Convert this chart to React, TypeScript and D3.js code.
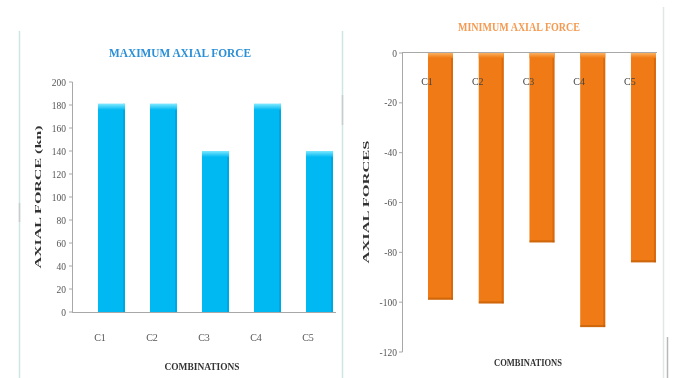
import React from "react";
import * as d3 from "d3";

const categories = ["C1", "C2", "C3", "C4", "C5"];
const maxValues = [181, 181, 140, 181, 140];
const minValues = [-99, -100.5, -76, -110, -84];
const maxTicks = [0, 20, 40, 60, 80, 100, 120, 140, 160, 180, 200];
const minTicks = [0, -20, -40, -60, -80, -100, -120];

const W = 673;
const H = 378;
const SERIF = "'Liberation Serif', 'Times New Roman', serif";

export default function App() {
  const xL = d3.scaleBand<string>().domain(categories).range([85.5, 345.5]).paddingInner(0.48).paddingOuter(0.24);
  const yL = d3.scaleLinear().domain([0, 200]).range([312, 82]);
  const xR = d3.scaleBand<string>().domain(categories).range([415.1, 668.85]).paddingInner(0.507).paddingOuter(0.254);
  const yR = d3.scaleLinear().domain([-120, 0]).range([352, 53]);

  return (
    <svg width={W} height={H} style={{ position: "absolute", left: 0, top: 0, background: "#fff" }}>
      <defs>
        <linearGradient id="capBlue" x1="0" y1="0" x2="0" y2="1">
          <stop offset="0" stopColor="#7de9ff" />
          <stop offset="1" stopColor="#00b8f2" />
        </linearGradient>
        <linearGradient id="capOrange" x1="0" y1="0" x2="0" y2="1">
          <stop offset="0" stopColor="#fbb060" />
          <stop offset="1" stopColor="#f07a12" />
        </linearGradient>
        <filter id="soft" x="-5%" y="-5%" width="110%" height="110%">
          <feGaussianBlur stdDeviation="0.45" />
        </filter>
      </defs>
      <rect x={0} y={0} width={W} height={H} fill="#fff" />
      <g filter="url(#soft)">
        {/* frames */}
        <line x1={19.5} y1={31} x2={19.5} y2={378} stroke="#cfe4e6" strokeWidth={1.5} />
        <line x1={342.5} y1={31} x2={342.5} y2={378} stroke="#cfe4e6" strokeWidth={1.5} />
        <line x1={342.5} y1={95} x2={342.5} y2={125} stroke="#c8cccc" strokeWidth={1.5} />
        <line x1={19.5} y1={203} x2={19.5} y2={222} stroke="#c8cccc" strokeWidth={1.5} />
        <line x1={663.5} y1={7} x2={663.5} y2={378} stroke="#e4e6e6" strokeWidth={1.5} />
        <line x1={667.5} y1={337} x2={667.5} y2={378} stroke="#b8b8b8" strokeWidth={1.5} />

        {/* ===== LEFT CHART ===== */}
        <text x={180} y={57} textAnchor="middle" fontFamily={SERIF} fontWeight="bold" fontSize={12.5}
          fill="#2a8fd6" textLength={142} lengthAdjust="spacingAndGlyphs">MAXIMUM AXIAL FORCE</text>
        {categories.map((c, i) => {
          const x = xL(c)!;
          const y = yL(maxValues[i]);
          const h = yL(0) - y;
          return (
            <g key={c}>
              <rect x={x} y={y} width={xL.bandwidth()} height={h} fill="#00b8f2" />
              <rect x={x + xL.bandwidth() - 2} y={y} width={2} height={h} fill="#0a9ad0" opacity={0.6} />
              <rect x={x} y={y} width={xL.bandwidth()} height={6} fill="url(#capBlue)" />
            </g>
          );
        })}
        <line x1={72.5} y1={yL(200)} x2={72.5} y2={yL(0)} stroke="#a8a8a8" />
        {maxTicks.map((t) => (
          <g key={t}>
            <line x1={69} x2={72.5} y1={yL(t)} y2={yL(t)} stroke="#a8a8a8" />
            <text x={66} y={yL(t) + 3.5} textAnchor="end" fontFamily={SERIF} fontSize={9.5} fill="#555">{t}</text>
          </g>
        ))}
        <line x1={72} y1={yL(0) + 0.5} x2={336} y2={yL(0) + 0.5} stroke="#a8a8a8" />
        {categories.map((c) => (
          <text key={c} x={xL(c)! + 2} y={341} textAnchor="middle" fontFamily={SERIF} fontSize={10} fill="#555">{c}</text>
        ))}
        <text x={202} y={370} textAnchor="middle" fontFamily={SERIF} fontWeight="bold" fontSize={10}
          fill="#333" textLength={75} lengthAdjust="spacingAndGlyphs">COMBINATIONS</text>
        <text transform="translate(40.5,197) rotate(-90)" textAnchor="middle" fontFamily={SERIF} fontWeight="bold"
          fontSize={8.5} fill="#333" textLength={143} lengthAdjust="spacingAndGlyphs">AXIAL FORCE (kn)</text>

        {/* ===== RIGHT CHART ===== */}
        <text x={519} y={31} textAnchor="middle" fontFamily={SERIF} fontWeight="bold" fontSize={12}
          fill="#f49a52" textLength={122} lengthAdjust="spacingAndGlyphs">MINIMUM AXIAL FORCE</text>
        {categories.map((c, i) => {
          const x = xR(c)!;
          const y0 = yR(0);
          const h = yR(minValues[i]) - y0;
          return (
            <g key={c}>
              <rect x={x} y={y0} width={xR.bandwidth()} height={h} fill="#f07a12" />
              <rect x={x + xR.bandwidth() - 2} y={y0} width={2} height={h} fill="#c86010" opacity={0.6} />
              <rect x={x} y={y0 + h - 2} width={xR.bandwidth()} height={2} fill="#b85a10" opacity={0.6} />
              <rect x={x} y={y0} width={xR.bandwidth()} height={5} fill="url(#capOrange)" />
            </g>
          );
        })}
        <line x1={402.5} y1={yR(0)} x2={402.5} y2={yR(-120)} stroke="#a8a8a8" />
        {minTicks.map((t) => (
          <g key={t}>
            <line x1={399} x2={402.5} y1={yR(t)} y2={yR(t)} stroke="#a8a8a8" />
            <text x={397} y={yR(t) + 3.5} textAnchor="end" fontFamily={SERIF} fontSize={9.5} fill="#555">{t}</text>
          </g>
        ))}
        <line x1={402} y1={yR(0) - 0.5} x2={657} y2={yR(0) - 0.5} stroke="#a8a8a8" />
        {categories.map((c) => (
          <text key={c} x={xR(c)! - 1} y={85} textAnchor="middle" fontFamily={SERIF} fontSize={10} fill="#444">{c}</text>
        ))}
        <text x={528} y={366} textAnchor="middle" fontFamily={SERIF} fontWeight="bold" fontSize={10}
          fill="#333" textLength={68} lengthAdjust="spacingAndGlyphs">COMBINATIONS</text>
        <text transform="translate(368.5,202) rotate(-90)" textAnchor="middle" fontFamily={SERIF} fontWeight="bold"
          fontSize={8.5} fill="#333" textLength={123} lengthAdjust="spacingAndGlyphs">AXIAL FORCES</text>
      </g>
    </svg>
  );
}
